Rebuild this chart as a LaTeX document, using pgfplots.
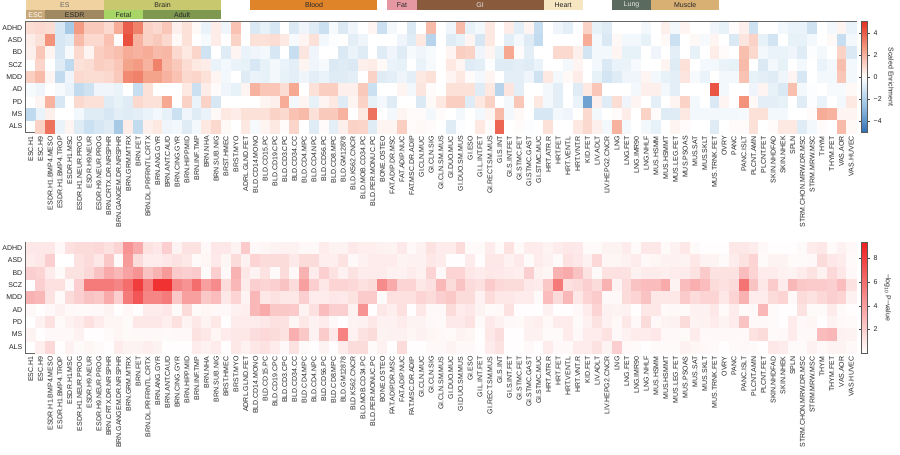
\documentclass[border=0pt]{standalone}
\usepackage{fontspec}
\setmainfont{Liberation Sans}
\usepackage{pgfplots}
\pgfplotsset{compat=1.18}

% category bar colours
\definecolor{cES}{HTML}{F0D2A0}
\definecolor{cBrain}{HTML}{C8C86E}
\definecolor{cESC}{HTML}{C8A878}
\definecolor{cESDR}{HTML}{A08860}
\definecolor{cFetal}{HTML}{A8D666}
\definecolor{cAdult}{HTML}{7E9850}
\definecolor{cBlood}{HTML}{E0842A}
\definecolor{cFat}{HTML}{E598A2}
\definecolor{cGI}{HTML}{8A5A3C}
\definecolor{cHeart}{HTML}{F6E6C2}
\definecolor{cLung}{HTML}{5A6A5E}
\definecolor{cMuscle}{HTML}{D8B074}

% one heatmap cell: 830.4pt / 85 wide, 111pt / 9 high
\pgfdeclareplotmark{hmcell}{%
  \pgfpathrectangle{\pgfpoint{-4.885pt}{-6.167pt}}{\pgfpoint{9.77pt}{12.333pt}}%
  \pgfusepathqfillstroke}

\tikzset{lbl/.style={font=\fontsize{7}{8.4}\selectfont, text=black!85}}

\pgfplotsset{
  colorbar shift/.style={xshift=5.5pt},
  heat/.style={
    scale only axis, width=830.4pt, height=111pt,
    xmin=-0.5, xmax=84.5, ymin=-0.5, ymax=8.5, y dir=reverse,
    enlargelimits=false, axis on top, clip=false,
    axis line style={draw=black!60, line width=0.7pt},
    xtick={0,...,84}, ytick={0,...,8},
    yticklabels={ADHD,ASD,BD,SCZ,MDD,AD,PD,MS,ALS},
    xticklabels={ESC.H1,ESC.H9,ESDR.H1.BMP4.MESO,ESDR.H1.BMP4.TROP,ESDR.H1.MSC,ESDR.H1.NEUR.PROG,ESDR.H9.NEUR,ESDR.H9.NEUR.PROG,BRN.CRTX.DR.NRSPHR,BRN.GANGEM.DR.NRSPHR,BRN.GRM.MTRX,BRN.FET,BRN.DL.PRFRNTL.CRTX,BRN.ANG.GYR,BRN.ANT.CAUD,BRN.CING.GYR,BRN.HIPP.MID,BRN.INF.TMP,BRN.NHA,BRN.SUB.NIG,BRST.HMEC,BRST.MYO,ADRL.GLND.FET,BLD.CD14.MONO,BLD.CD15.PC,BLD.CD19.CPC,BLD.CD3.CPC,BLD.CD34.CC,BLD.CD4.MPC,BLD.CD4.NPC,BLD.CD56.PC,BLD.CD8.MPC,BLD.GM12878,BLD.K562.CNCR,BLD.MOB.CD34.PC,BLD.PER.MONUC.PC,BONE.OSTEO,FAT.ADIP.DR.MSC,FAT.ADIP.NUC,FAT.MSC.DR.ADIP,GI.CLN.MUC,GI.CLN.SIG,GI.CLN.SM.MUS,GI.DUO.MUC,GI.DUO.SM.MUS,GI.ESO,GI.L.INT.FET,GI.RECT.SM.MUS,GI.S.INT,GI.S.INT.FET,GI.STMC.FET,GI.STMC.GAST,GI.STMC.MUC,HRT.ATR.R,HRT.FET,HRT.VENT.L,HRT.VNT.R,KID.FET,LIV.ADLT,LIV.HEPG2.CNCR,LNG,LNG.FET,LNG.IMR90,LNG.NHLF,MUS.HSMM,MUS.HSMMT,MUS.LEG.FET,MUS.PSOAS,MUS.SAT,MUS.SKLT,MUS.TRNK.FET,OVRY,PANC,PANC.ISLT,PLCNT.AMN,PLCNT.FET,SKIN.NHDFAD,SKIN.NHEK,SPLN,STRM.CHON.MRW.DR.MSC,STRM.MRW.MSC,THYM,THYM.FET,VAS.AOR,VAS.HUVEC},
    tick style={draw=none}, major tick length=0pt,
    ticklabel style={lbl},
    xticklabel style={rotate=90, anchor=east},
    colorbar,
  },
  hmcells/.style={scatter, only marks, mark=hmcell,
    point meta={\thisrowno{0}},
    line width=0.3pt,
    scatter/use mapped color={draw=mapped color, fill=mapped color}},
  hmbar/.style={at={(parent axis.north east)}, anchor=north west,
    scale only axis, width=6pt,
    axis line style={draw=black!65, line width=0.4pt},
    tick align=outside, major tick length=2.5pt,
    tick style={draw=black!70, line width=0.4pt},
    yticklabel style={lbl},
    ylabel style={lbl, rotate=180}},
}

\begin{document}
\begin{tikzpicture}
\useasboundingbox (0,0) rectangle (900pt,455pt);

% scaled enrichment; values row-major, 85 tissues per disease, ADHD..ALS
\begin{axis}[heat, at={(25.8pt,433.3pt)}, anchor=north west,
  colormap={enrmap}{rgb255=(45,110,180) rgb255=(155,195,228) rgb255=(255,255,255) rgb255=(245,160,135) rgb255=(228,48,34)},
  point meta min=-5, point meta max=5,
  colorbar style={hmbar, ytick={-4,-2,0,2,4}, yticklabels={−4,−2,0,2,4},
    ylabel={Scaled Enrichment}}]
\addplot[hmcells] table[header=false, row sep=\\,
    x expr={mod(\coordindex,85)}, y expr={floor(\coordindex/85)}] {
0.9\\ 1.0\\ 0.9\\ -1.0\\ -2.2\\ 2.6\\ 1.4\\ 1.4\\ 1.0\\ 2.2\\ 4.0\\ 3.2\\ 1.2\\ 1.0\\ 1.5\\ 0.4\\ 0.8\\ 0.2\\ -0.5\\ 0.5\\ -0.4\\ 1.6\\ 0.0\\ -0.9\\ -0.6\\ -1.0\\ 0.0\\ -0.9\\ -0.4\\ -0.8\\ -1.3\\ -0.2\\ -0.9\\ -0.4\\ 0.0\\ 0.3\\ -1.3\\ -0.3\\ 0.0\\ -0.9\\ 0.0\\ 1.8\\ 0.0\\ -0.4\\ 1.8\\ -0.6\\ -0.3\\ 0.6\\ 0.0\\ 0.5\\ -0.7\\ 0.3\\ -1.4\\ 0.0\\ -0.4\\ -0.7\\ -0.1\\ 1.2\\ -0.6\\ -0.8\\ 0.0\\ 0.0\\ 0.0\\ -0.3\\ 0.0\\ 0.4\\ -0.3\\ 0.3\\ 0.0\\ 0.0\\ -0.4\\ -0.6\\ 0.1\\ 0.4\\ -1.2\\ 0.0\\ 0.0\\ -0.3\\ -0.5\\ -0.5\\ -1.2\\ 0.0\\ -0.3\\ 0.3\\ -0.5\\
0.5\\ 0.8\\ 2.8\\ -1.0\\ -0.8\\ 1.8\\ 1.0\\ 1.0\\ 1.6\\ 0.1\\ 4.3\\ 2.0\\ 1.2\\ 1.4\\ 1.0\\ 0.2\\ 0.8\\ 0.0\\ -0.2\\ 0.5\\ 0.0\\ 1.2\\ 0.0\\ 0.8\\ 0.8\\ 0.9\\ 0.6\\ -0.2\\ 0.3\\ 0.8\\ -0.3\\ -0.1\\ 0.0\\ -0.7\\ -0.4\\ 0.0\\ 0.0\\ 0.0\\ -0.4\\ -0.8\\ 0.6\\ -1.8\\ 0.0\\ -0.8\\ -0.6\\ 0.3\\ -1.0\\ 0.6\\ 0.0\\ -0.7\\ -0.3\\ -0.8\\ -1.5\\ 0.0\\ 0.0\\ 0.0\\ 0.0\\ 2.2\\ -0.3\\ -0.9\\ 0.2\\ -0.3\\ -0.3\\ -0.6\\ 0.0\\ 0.2\\ -1.3\\ 0.0\\ 0.2\\ -0.2\\ 0.3\\ 0.0\\ -0.9\\ 0.7\\ 1.2\\ -0.6\\ -1.1\\ 0.0\\ -0.6\\ -0.6\\ -0.3\\ 0.0\\ 0.2\\ -1.4\\ -0.3\\
1.0\\ 1.5\\ 0.3\\ -1.0\\ -0.2\\ 1.0\\ 0.3\\ 1.3\\ 1.5\\ 1.7\\ 2.2\\ 2.0\\ 2.2\\ 1.8\\ 1.9\\ 1.0\\ 0.6\\ 1.1\\ -1.2\\ 0.0\\ -0.8\\ 0.3\\ -0.5\\ -0.4\\ -0.3\\ -1.0\\ 0.0\\ -1.4\\ 0.7\\ -0.4\\ 0.0\\ 0.0\\ -0.9\\ -0.5\\ -0.8\\ 0.0\\ -0.8\\ -0.4\\ -0.8\\ -0.2\\ -0.4\\ -0.2\\ 0.0\\ 0.3\\ 1.3\\ 1.2\\ -0.4\\ 0.3\\ -0.6\\ 2.3\\ 0.1\\ -0.7\\ 0.0\\ 0.0\\ 1.0\\ 1.0\\ 0.4\\ -1.1\\ -0.3\\ -0.3\\ 0.3\\ -0.6\\ -0.6\\ 0.0\\ -0.4\\ 0.0\\ -0.7\\ 0.0\\ -0.6\\ 0.0\\ 0.5\\ 0.1\\ 0.0\\ 1.7\\ 1.0\\ -0.3\\ -0.5\\ -0.5\\ -0.4\\ -0.8\\ -0.1\\ -0.3\\ 0.0\\ 1.2\\ -0.9\\
0.4\\ 1.1\\ 0.0\\ -0.8\\ -1.6\\ 0.8\\ 0.9\\ 1.3\\ 1.2\\ 1.5\\ 2.4\\ 2.6\\ 2.0\\ 3.2\\ 1.8\\ 1.4\\ 0.9\\ 0.6\\ 0.5\\ -0.5\\ -0.3\\ -0.5\\ -0.6\\ -1.0\\ -0.6\\ -0.3\\ -0.5\\ -0.7\\ 0.3\\ -0.4\\ -0.2\\ -0.9\\ -0.8\\ -0.9\\ 0.4\\ 0.5\\ 0.2\\ -0.5\\ -0.6\\ 0.0\\ -0.5\\ -0.2\\ 0.0\\ 0.6\\ 0.3\\ -0.8\\ -0.7\\ -0.1\\ -0.8\\ -0.8\\ -0.7\\ -0.8\\ -0.5\\ 0.0\\ 0.0\\ -0.3\\ 0.3\\ 0.0\\ -0.3\\ -0.9\\ -0.5\\ -0.5\\ -0.2\\ 0.0\\ 0.0\\ 0.3\\ -0.8\\ 0.8\\ 0.0\\ -0.3\\ -0.3\\ -0.5\\ -0.6\\ 1.8\\ 0.0\\ -0.9\\ -0.3\\ -0.6\\ 0.0\\ -0.3\\ 0.0\\ -0.5\\ -0.3\\ 1.7\\ -0.3\\
1.3\\ 1.8\\ 0.3\\ -1.5\\ -0.4\\ 1.0\\ 0.9\\ 0.9\\ 1.0\\ 1.4\\ 3.0\\ 3.2\\ 2.4\\ 2.4\\ 2.0\\ 1.6\\ 1.0\\ 1.1\\ 0.8\\ 0.3\\ -0.3\\ 0.0\\ -0.8\\ -0.5\\ -0.6\\ -0.3\\ -0.6\\ -0.7\\ -0.4\\ -0.7\\ -0.5\\ -0.8\\ -0.8\\ -0.7\\ 0.0\\ 1.2\\ -0.8\\ -0.7\\ -0.4\\ -0.7\\ 0.6\\ 0.8\\ 0.0\\ 0.3\\ 0.6\\ 0.1\\ -0.3\\ 0.3\\ 0.0\\ -0.7\\ -0.7\\ -0.4\\ -1.2\\ 0.6\\ -0.3\\ 0.2\\ 0.5\\ 0.0\\ -0.6\\ -1.1\\ -0.8\\ -0.4\\ -0.4\\ 0.3\\ -0.3\\ -0.6\\ -0.7\\ 0.7\\ -0.2\\ -0.5\\ 0.0\\ -0.3\\ -0.3\\ 1.6\\ -0.6\\ -0.7\\ -0.8\\ -0.4\\ 0.3\\ -1.0\\ 0.0\\ -0.3\\ -0.3\\ 1.5\\ -0.3\\
-1.0\\ -0.4\\ 0.0\\ -0.2\\ -0.5\\ -1.5\\ -1.2\\ -0.4\\ -0.4\\ -0.5\\ 0.0\\ -1.4\\ 0.8\\ 0.0\\ 0.0\\ 0.0\\ 0.6\\ -1.3\\ 0.5\\ 0.1\\ -0.4\\ -0.6\\ 0.3\\ 2.0\\ 1.5\\ 1.5\\ 0.9\\ 2.3\\ 0.0\\ 0.8\\ 1.3\\ 1.3\\ 0.4\\ 0.4\\ 1.4\\ -1.3\\ 0.0\\ 0.0\\ 0.3\\ -0.3\\ 0.7\\ 0.1\\ 0.0\\ 0.8\\ 0.8\\ 0.8\\ -0.8\\ 0.6\\ -1.8\\ 0.7\\ -0.7\\ 0.0\\ 0.0\\ -0.3\\ -0.7\\ 0.0\\ -0.8\\ 0.6\\ 1.5\\ 0.0\\ 0.0\\ 0.0\\ -0.3\\ 0.4\\ 0.4\\ -0.3\\ -0.7\\ 0.0\\ 0.0\\ 0.0\\ 4.2\\ -0.3\\ 0.0\\ 0.0\\ -0.4\\ 0.3\\ -0.6\\ -0.9\\ 1.7\\ -0.3\\ -0.1\\ 0.0\\ -0.2\\ -0.2\\ 0.2\\
-0.2\\ 0.3\\ 2.0\\ -1.0\\ 0.0\\ 1.0\\ 0.8\\ 0.8\\ -0.8\\ -0.6\\ -0.8\\ 1.0\\ 0.8\\ 0.8\\ 2.3\\ 0.0\\ 1.2\\ -0.5\\ 1.2\\ -1.0\\ 0.0\\ 0.0\\ 0.0\\ 0.0\\ 0.3\\ 0.4\\ 2.2\\ -0.3\\ 0.3\\ -0.6\\ 0.3\\ 0.6\\ -0.8\\ 0.3\\ 1.2\\ -0.6\\ -0.3\\ -0.8\\ 0.0\\ 0.0\\ -0.9\\ 0.2\\ 0.6\\ 1.3\\ 1.3\\ -0.8\\ 0.6\\ 1.2\\ 0.0\\ -0.3\\ 1.5\\ 0.0\\ 0.6\\ -0.3\\ -0.7\\ 0.0\\ -0.5\\ -3.5\\ 0.4\\ -0.8\\ 0.9\\ -0.4\\ 0.3\\ 0.0\\ -0.7\\ 0.0\\ 0.3\\ 1.2\\ -0.3\\ 0.0\\ -0.9\\ 0.3\\ 0.0\\ 2.8\\ 0.2\\ -0.7\\ -0.7\\ -0.6\\ 0.0\\ -0.8\\ -0.1\\ -0.5\\ 0.0\\ -0.3\\ 0.6\\
-1.5\\ -0.5\\ 0.4\\ 0.0\\ 0.0\\ -0.3\\ -0.8\\ -0.8\\ -1.0\\ -0.7\\ -0.8\\ -0.7\\ -0.5\\ -0.3\\ -0.6\\ -1.3\\ -0.4\\ -0.8\\ -0.5\\ 0.2\\ 0.6\\ 0.5\\ 0.8\\ 0.8\\ 0.8\\ 1.2\\ 1.0\\ 1.6\\ 1.8\\ 0.8\\ 1.4\\ 1.4\\ 2.0\\ 0.0\\ 0.6\\ 3.5\\ 0.0\\ -0.3\\ 0.3\\ 0.1\\ 0.1\\ -0.3\\ 0.1\\ 0.0\\ -0.3\\ 0.0\\ -0.3\\ 0.3\\ 1.8\\ -0.3\\ 0.2\\ 0.0\\ -1.0\\ -1.0\\ -0.3\\ -0.4\\ 0.0\\ 1.0\\ -0.3\\ 0.0\\ 0.1\\ 0.5\\ 0.0\\ 1.2\\ 0.1\\ -0.8\\ -0.8\\ 0.6\\ -0.3\\ -0.3\\ -0.3\\ -0.3\\ -0.3\\ -0.2\\ 0.8\\ 0.8\\ -0.3\\ -0.3\\ 0.0\\ 0.0\\ 0.1\\ 2.2\\ 2.0\\ 0.3\\ 0.3\\
-1.6\\ 1.2\\ 3.5\\ -0.5\\ 0.3\\ -0.8\\ -1.3\\ -1.0\\ -0.8\\ -2.2\\ 0.5\\ -1.5\\ 0.4\\ 0.6\\ -0.4\\ -0.3\\ -0.8\\ -0.3\\ 0.6\\ 1.0\\ 0.2\\ 0.0\\ 0.6\\ -0.2\\ 0.3\\ 0.6\\ 0.1\\ 1.1\\ 0.0\\ -0.8\\ 0.1\\ -0.7\\ 0.4\\ 1.2\\ 1.1\\ -0.8\\ 0.3\\ 0.3\\ 1.3\\ 0.1\\ 0.2\\ 0.1\\ 0.0\\ -0.8\\ -0.1\\ 0.0\\ 0.6\\ 0.1\\ 3.8\\ 0.0\\ 0.1\\ -0.1\\ 0.0\\ 0.8\\ 0.0\\ 0.0\\ 0.6\\ 1.0\\ 0.4\\ -0.3\\ 2.0\\ -0.3\\ 0.0\\ -0.3\\ -0.6\\ 0.0\\ 0.3\\ 0.1\\ 0.0\\ 0.0\\ -0.8\\ 0.0\\ 0.1\\ 0.1\\ 0.8\\ 0.0\\ 0.1\\ 0.6\\ 0.6\\ -0.8\\ -0.3\\ 0.1\\ 0.0\\ 1.8\\ 0.2\\
};

% tissue group bars
\fill[cES] (-0.5,-2.26) rectangle (7.5,-1.465);
\node[lbl, text=black!60] at (3.5,-1.86) {ES};
\fill[cBrain] (7.5,-2.26) rectangle (19.5,-1.465);
\node[lbl] at (13.5,-1.86) {Brain};
\fill[cBlood] (22.5,-2.26) rectangle (35.5,-1.465);
\node[lbl] at (29,-1.86) {Blood};
\fill[cFat] (36.5,-2.26) rectangle (39.5,-1.465);
\node[lbl] at (38,-1.86) {Fat};
\fill[cGI] (39.5,-2.26) rectangle (52.5,-1.465);
\node[lbl, text=white!90!black] at (46,-1.86) {GI};
\fill[cHeart] (52.5,-2.26) rectangle (56.5,-1.465);
\node[lbl] at (54.5,-1.86) {Heart};
\fill[cLung] (59.5,-2.26) rectangle (63.5,-1.465);
\node[lbl, text=white!90!black] at (61.5,-1.86) {Lung};
\fill[cMuscle] (63.5,-2.26) rectangle (70.5,-1.465);
\node[lbl] at (67,-1.86) {Muscle};
\fill[cESC] (-0.5,-1.432) rectangle (1.5,-0.695);
\node[lbl, text=white] at (0.5,-1.06) {ESC};
\fill[cESDR] (1.5,-1.432) rectangle (7.5,-0.695);
\node[lbl] at (4.5,-1.06) {ESDR};
\fill[cFetal] (7.5,-1.432) rectangle (11.5,-0.695);
\node[lbl] at (9.5,-1.06) {Fetal};
\fill[cAdult] (11.5,-1.432) rectangle (19.5,-0.695);
\node[lbl] at (15.5,-1.06) {Adult};
\end{axis}

% -log10 P-value; same layout
\begin{axis}[heat, at={(25.8pt,213pt)}, anchor=north west,
  colormap={pvmap}{rgb255=(255,255,255) rgb255=(238,30,30)},
  point meta min=0, point meta max=9.4,
  colorbar style={hmbar, ytick={2,4,6,8}, yticklabels={2,4,6,8},
    ylabel={−log\textsubscript{10} P−value}}]
\addplot[hmcells] table[header=false, row sep=\\,
    x expr={mod(\coordindex,85)}, y expr={floor(\coordindex/85)}] {
1.0\\ 1.0\\ 1.0\\ 0.3\\ 1.3\\ 1.5\\ 1.5\\ 1.6\\ 1.3\\ 1.8\\ 4.5\\ 3.5\\ 1.2\\ 1.0\\ 2.0\\ 0.5\\ 1.2\\ 1.2\\ 0.3\\ 1.0\\ 1.0\\ 0.5\\ 2.2\\ 0.3\\ 0.4\\ 0.5\\ 0.6\\ 0.6\\ 0.3\\ 0.3\\ 0.8\\ 0.5\\ 0.5\\ 0.9\\ 0.7\\ 0.7\\ 0.6\\ 0.5\\ 0.9\\ 0.3\\ 0.6\\ 1.2\\ 0.8\\ 0.8\\ 1.5\\ 0.2\\ 0.2\\ 0.8\\ 0.2\\ 1.2\\ 0.2\\ 0.8\\ 0.8\\ 0.5\\ 0.8\\ 1.0\\ 0.9\\ 0.2\\ 0.2\\ 0.5\\ 0.5\\ 0.8\\ 0.2\\ 1.0\\ 1.0\\ 0.2\\ 0.6\\ 1.0\\ 0.2\\ 0.1\\ 0.1\\ 0.1\\ 1.0\\ 1.0\\ 0.8\\ 0.3\\ 0.1\\ 0.1\\ 0.1\\ 0.2\\ 0.8\\ 1.0\\ 0.2\\ 0.6\\ 0.3\\
0.8\\ 1.0\\ 2.0\\ 0.0\\ 0.0\\ 1.2\\ 1.5\\ 1.0\\ 2.3\\ 0.2\\ 4.2\\ 1.5\\ 0.8\\ 0.8\\ 1.0\\ 1.2\\ 1.0\\ 0.2\\ 0.4\\ 0.9\\ 0.4\\ 1.5\\ 0.6\\ 1.8\\ 1.5\\ 1.5\\ 1.5\\ 0.9\\ 1.5\\ 1.5\\ 0.7\\ 0.7\\ 1.2\\ 0.3\\ 0.6\\ 0.8\\ 0.8\\ 0.8\\ 0.5\\ 0.6\\ 0.6\\ 1.0\\ 0.8\\ 0.1\\ 0.1\\ 0.8\\ 0.1\\ 1.0\\ 1.0\\ 0.6\\ 0.9\\ 0.2\\ 0.8\\ 0.6\\ 0.2\\ 1.2\\ 1.0\\ 0.6\\ 1.6\\ 0.4\\ 0.4\\ 0.6\\ 0.8\\ 0.3\\ 0.4\\ 0.6\\ 0.6\\ 0.5\\ 1.0\\ 0.5\\ 0.5\\ 0.2\\ 0.8\\ 1.2\\ 1.8\\ 0.2\\ 0.5\\ 0.5\\ 0.2\\ 0.2\\ 0.3\\ 1.5\\ 1.0\\ 0.8\\ 0.2\\
1.8\\ 1.8\\ 0.8\\ 0.2\\ 1.2\\ 1.2\\ 1.6\\ 2.5\\ 3.5\\ 3.0\\ 3.8\\ 4.5\\ 2.5\\ 3.2\\ 4.2\\ 2.2\\ 2.0\\ 2.2\\ 0.2\\ 2.0\\ 0.3\\ 3.2\\ 1.0\\ 0.5\\ 1.2\\ 0.2\\ 1.5\\ 0.3\\ 3.2\\ 0.8\\ 2.0\\ 1.2\\ 0.6\\ 1.2\\ 0.8\\ 0.8\\ 0.8\\ 0.6\\ 0.6\\ 0.8\\ 0.6\\ 1.8\\ 0.3\\ 1.8\\ 1.8\\ 1.0\\ 0.8\\ 1.0\\ 0.9\\ 0.8\\ 0.7\\ 2.0\\ 0.6\\ 0.4\\ 3.2\\ 3.5\\ 2.5\\ 1.2\\ 0.2\\ 1.2\\ 1.3\\ 1.2\\ 0.6\\ 0.8\\ 0.8\\ 0.7\\ 0.8\\ 0.8\\ 1.2\\ 2.2\\ 1.2\\ 1.2\\ 1.2\\ 2.8\\ 1.8\\ 0.8\\ 0.8\\ 0.6\\ 0.5\\ 0.8\\ 1.2\\ 0.6\\ 1.6\\ 1.0\\ 0.3\\
2.0\\ 2.0\\ 1.3\\ 1.3\\ 0.3\\ 2.0\\ 5.5\\ 5.5\\ 5.5\\ 5.0\\ 6.0\\ 8.0\\ 5.5\\ 8.5\\ 8.5\\ 5.0\\ 4.5\\ 6.0\\ 4.0\\ 4.8\\ 1.5\\ 3.0\\ 0.8\\ 2.0\\ 1.8\\ 2.0\\ 2.5\\ 1.5\\ 4.0\\ 2.0\\ 1.0\\ 1.8\\ 1.8\\ 1.6\\ 1.3\\ 1.5\\ 4.8\\ 3.5\\ 1.8\\ 1.8\\ 1.0\\ 1.3\\ 3.0\\ 1.5\\ 2.5\\ 1.5\\ 1.3\\ 2.2\\ 1.6\\ 1.5\\ 1.5\\ 0.9\\ 0.8\\ 2.3\\ 5.5\\ 1.3\\ 1.5\\ 2.0\\ 1.5\\ 3.2\\ 0.5\\ 1.5\\ 2.5\\ 2.8\\ 2.8\\ 3.5\\ 0.5\\ 2.8\\ 3.3\\ 2.8\\ 1.5\\ 1.3\\ 1.5\\ 5.8\\ 2.5\\ 1.0\\ 2.2\\ 0.8\\ 3.0\\ 2.3\\ 2.2\\ 2.2\\ 2.0\\ 2.8\\ 1.2\\
3.2\\ 3.0\\ 1.2\\ 0.2\\ 1.5\\ 2.0\\ 2.5\\ 2.3\\ 3.5\\ 2.0\\ 5.5\\ 7.0\\ 5.0\\ 5.0\\ 5.5\\ 2.3\\ 4.0\\ 4.0\\ 2.3\\ 2.8\\ 1.0\\ 1.8\\ 0.5\\ 3.0\\ 1.0\\ 1.2\\ 1.0\\ 1.0\\ 2.0\\ 0.8\\ 0.8\\ 1.0\\ 0.9\\ 1.2\\ 2.2\\ 2.2\\ 0.2\\ 1.3\\ 1.3\\ 1.3\\ 1.8\\ 1.5\\ 2.0\\ 2.3\\ 1.5\\ 1.5\\ 0.6\\ 1.5\\ 1.0\\ 1.0\\ 0.8\\ 0.8\\ 0.2\\ 2.8\\ 1.5\\ 3.0\\ 1.0\\ 1.8\\ 2.2\\ 0.3\\ 0.3\\ 1.5\\ 1.8\\ 2.5\\ 1.0\\ 1.0\\ 1.0\\ 2.2\\ 1.5\\ 1.8\\ 1.8\\ 1.0\\ 1.8\\ 3.2\\ 0.8\\ 0.8\\ 1.5\\ 1.8\\ 0.3\\ 1.5\\ 1.2\\ 1.6\\ 2.0\\ 1.8\\ 0.6\\
0.1\\ 0.1\\ 0.3\\ 0.6\\ 0.3\\ 0.2\\ 0.2\\ 0.3\\ 0.5\\ 0.1\\ 0.3\\ 0.1\\ 0.8\\ 0.8\\ 1.0\\ 0.2\\ 1.5\\ 0.2\\ 0.4\\ 0.3\\ 0.3\\ 0.6\\ 0.7\\ 3.0\\ 3.5\\ 2.3\\ 2.3\\ 2.2\\ 0.5\\ 1.3\\ 2.8\\ 2.0\\ 2.0\\ 0.6\\ 4.5\\ 0.1\\ 1.0\\ 0.7\\ 1.3\\ 0.1\\ 1.0\\ 0.3\\ 0.3\\ 1.5\\ 0.8\\ 1.0\\ 0.5\\ 0.2\\ 0.3\\ 1.2\\ 0.1\\ 0.1\\ 0.1\\ 0.6\\ 0.1\\ 0.1\\ 0.3\\ 0.8\\ 1.8\\ 0.6\\ 0.5\\ 0.6\\ 0.1\\ 1.0\\ 1.0\\ 0.2\\ 0.3\\ 0.2\\ 0.6\\ 0.6\\ 1.0\\ 0.2\\ 0.8\\ 0.2\\ 0.3\\ 3.0\\ 0.2\\ 0.1\\ 0.1\\ 1.2\\ 0.2\\ 0.2\\ 0.8\\ 0.2\\ 0.1\\
0.3\\ 0.6\\ 1.3\\ 0.2\\ 0.6\\ 0.8\\ 1.3\\ 0.8\\ 0.4\\ 0.4\\ 0.2\\ 1.0\\ 1.0\\ 1.0\\ 0.7\\ 1.3\\ 0.5\\ 1.0\\ 0.5\\ 1.0\\ 0.1\\ 0.8\\ 0.8\\ 0.8\\ 1.0\\ 1.3\\ 1.2\\ 0.4\\ 1.0\\ 0.6\\ 0.8\\ 0.3\\ 0.1\\ 0.5\\ 0.6\\ 1.0\\ 0.6\\ 0.6\\ 0.8\\ 0.5\\ 0.5\\ 0.3\\ 0.2\\ 0.9\\ 0.9\\ 1.2\\ 0.2\\ 0.9\\ 0.6\\ 0.3\\ 0.2\\ 0.6\\ 0.7\\ 0.3\\ 0.8\\ 0.8\\ 0.2\\ 0.6\\ 1.2\\ 0.6\\ 0.3\\ 1.0\\ 0.3\\ 1.5\\ 0.3\\ 0.5\\ 0.6\\ 1.5\\ 0.5\\ 0.6\\ 0.8\\ 0.5\\ 0.8\\ 2.5\\ 0.3\\ 0.3\\ 0.2\\ 0.1\\ 0.8\\ 0.3\\ 0.4\\ 0.1\\ 0.5\\ 0.3\\ 0.2\\
0.6\\ 0.1\\ 0.3\\ 0.3\\ 0.3\\ 0.6\\ 0.1\\ 0.1\\ 0.2\\ 0.4\\ 0.2\\ 0.3\\ 0.3\\ 0.3\\ 0.2\\ 0.3\\ 0.3\\ 1.2\\ 1.0\\ 0.4\\ 0.8\\ 1.0\\ 1.0\\ 1.4\\ 1.6\\ 1.5\\ 1.2\\ 3.3\\ 2.3\\ 0.6\\ 2.2\\ 0.9\\ 5.2\\ 0.6\\ 1.2\\ 1.5\\ 0.5\\ 0.6\\ 0.6\\ 0.4\\ 0.6\\ 0.4\\ 0.3\\ 0.2\\ 0.5\\ 0.4\\ 0.1\\ 1.0\\ 1.4\\ 0.1\\ 0.1\\ 0.6\\ 0.6\\ 0.2\\ 0.2\\ 0.8\\ 0.3\\ 0.8\\ 0.8\\ 1.2\\ 0.3\\ 0.6\\ 0.8\\ 0.8\\ 1.0\\ 0.3\\ 0.3\\ 0.2\\ 0.8\\ 0.3\\ 0.3\\ 0.3\\ 0.3\\ 0.3\\ 1.2\\ 1.5\\ 0.2\\ 0.3\\ 0.8\\ 0.3\\ 0.3\\ 2.8\\ 3.0\\ 0.6\\ 0.5\\
0.5\\ 0.7\\ 1.6\\ 0.1\\ 0.6\\ 0.2\\ 0.4\\ 0.2\\ 0.1\\ 0.8\\ 0.5\\ 0.5\\ 0.7\\ 0.5\\ 0.1\\ 0.1\\ 0.1\\ 0.8\\ 0.6\\ 0.8\\ 0.1\\ 1.0\\ 0.6\\ 1.0\\ 1.2\\ 0.8\\ 0.3\\ 1.2\\ 0.2\\ 0.1\\ 0.5\\ 0.1\\ 0.8\\ 1.5\\ 1.5\\ 0.2\\ 0.6\\ 0.1\\ 1.5\\ 0.1\\ 0.1\\ 0.3\\ 0.3\\ 0.5\\ 0.3\\ 0.3\\ 0.1\\ 0.8\\ 1.2\\ 0.1\\ 0.1\\ 0.3\\ 0.1\\ 0.8\\ 0.3\\ 0.3\\ 0.8\\ 0.8\\ 1.2\\ 0.5\\ 2.0\\ 0.3\\ 0.2\\ 0.1\\ 0.2\\ 0.2\\ 0.2\\ 0.6\\ 0.4\\ 0.3\\ 0.2\\ 0.1\\ 0.2\\ 0.3\\ 0.2\\ 0.1\\ 1.0\\ 0.8\\ 0.2\\ 0.2\\ 0.6\\ 0.3\\ 0.5\\ 0.5\\ 0.3\\
};
\end{axis}
\end{tikzpicture}
\end{document}
